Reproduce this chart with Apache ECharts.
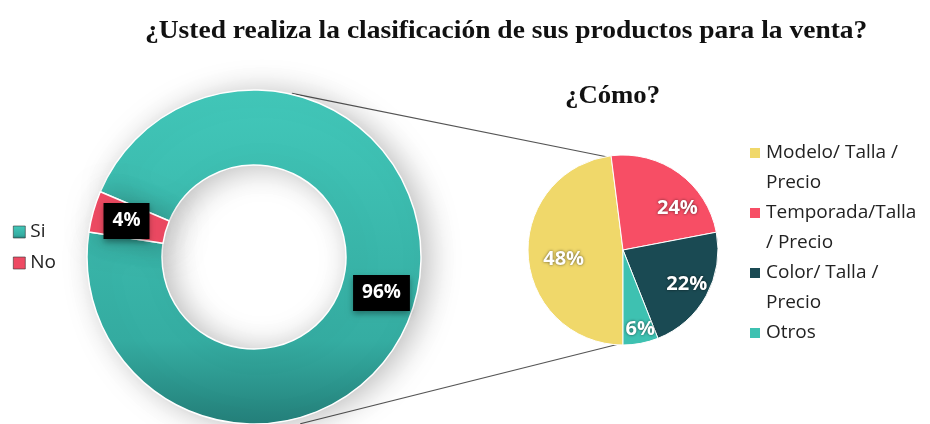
<!DOCTYPE html>
<html>
<head>
<meta charset="utf-8">
<script src="https://cdn.jsdelivr.net/npm/echarts@6/dist/echarts.min.js"></script>
<style>
  html, body { margin: 0; padding: 0; background: #fff; }
  #chart { width: 930px; height: 424px; }
</style>
</head>
<body>
<div id="chart"></div>
<script>
// datos del grafico
var siNoNames = ['Si', 'No'];
var siNoValues = [96, 4];
var comoNames = ['Modelo/ Talla /\nPrecio', 'Temporada/Talla\n/ Precio', 'Color/ Talla /\nPrecio', 'Otros'];
var comoValues = [48, 24, 22, 6];

var siNoColors = [
    { type: 'linear', x: 0, y: 0, x2: 0, y2: 1,
      colorStops: [{ offset: 0, color: '#42C8BA' }, { offset: 0.75, color: '#35ADA2' }, { offset: 1, color: '#24807A' }] },
    '#EE4A63'
];
var comoColors = ['#F0D86A', '#F74E65', '#1A4A53', '#3EC1B1'];
// corrimiento de las etiquetas del pie (Excel no las pone en el centro del sector)
var comoLabelShift = [[11, 5], [13, 15], [2, 0], [4, 10]];

// geometria
var donutCenter = [254, 257];
var donutRadius = [92, 167];
var pieCenter = [623, 250];
var pieRadius = 95;

var chart = echarts.init(document.getElementById('chart'));

function polar(c, r, deg) {
    var a = deg * Math.PI / 180;
    return [c[0] + r * Math.cos(a), c[1] - r * Math.sin(a)];
}

// lineas de conexion: del anillo al borde del sector "Modelo"
var modeloEnd = -90 - 360 * comoValues[0] / 100 + 360;
var lineTopA = polar(donutCenter, donutRadius[1] + 1, 77);
var lineTopB = polar(pieCenter, pieRadius - 2, modeloEnd);
var lineBotA = polar(donutCenter, donutRadius[1] + 6, -74.5);
var lineBotB = polar(pieCenter, pieRadius - 2, -90);

var boxLabel = {
    show: true,
    position: 'inside',
    formatter: '{c}%',
    color: '#fff',
    fontFamily: 'Open Sans',
    fontWeight: 'bold',
    fontSize: 19,
    backgroundColor: '#000',
    padding: [9, 9, 8, 9],
    shadowColor: 'rgba(0,0,0,0.35)',
    shadowBlur: 6,
    shadowOffsetY: 3
};

var option = {
    backgroundColor: '#fff',
    animation: false,
    legend: [
        {
            data: siNoNames,
            orient: 'vertical',
            left: 13,
            top: 222,
            padding: 0,
            itemWidth: 12,
            itemHeight: 12,
            itemGap: 11,
            icon: 'rect',
            itemStyle: { borderColor: '#333', borderWidth: 0.6 },
            textStyle: { fontFamily: 'Open Sans', fontSize: 19, color: '#222', lineHeight: 20 }
        },
        {
            data: comoNames,
            orient: 'vertical',
            left: 748,
            top: 108,
            padding: 0,
            itemWidth: 12,
            itemHeight: 12,
            itemGap: -30,
            icon: 'rect',
            textStyle: { fontFamily: 'Open Sans', fontSize: 19, color: '#222', lineHeight: 30 },
            formatter: function (name) {
                return name.indexOf('\n') >= 0 ? '\n' + name : '\n' + name + '\n';
            }
        }
    ],
    graphic: [
        {
            type: 'text', x: 145, y: 19, scaleX: 1.1,
            style: {
                text: '¿Usted realiza la clasificación de sus productos para la venta?',
                font: 'bold 25px "Liberation Serif"', fill: '#111', textVerticalAlign: 'top'
            }
        },
        {
            type: 'text', x: 565, y: 84, scaleX: 1.07,
            style: { text: '¿Cómo?', font: 'bold 25px "Liberation Serif"', fill: '#111', textVerticalAlign: 'top' }
        },
        { type: 'line', z: -1, shape: { x1: lineTopA[0], y1: lineTopA[1], x2: lineTopB[0], y2: lineTopB[1] },
          style: { stroke: '#555', lineWidth: 1.2 } },
        { type: 'line', z: -1, shape: { x1: lineBotA[0], y1: lineBotA[1], x2: lineBotB[0], y2: lineBotB[1] },
          style: { stroke: '#555', lineWidth: 1.2 } }
    ],
    series: [
        {
            type: 'pie',
            center: donutCenter,
            radius: donutRadius,
            startAngle: 157,
            clockwise: true,
            silent: true,
            itemStyle: {
                borderColor: '#fff',
                borderWidth: 1.5,
                shadowColor: 'rgba(0,0,0,0.26)',
                shadowBlur: 30,
                shadowOffsetX: 8,
                shadowOffsetY: 2
            },
            label: boxLabel,
            labelLine: { show: false },
            data: siNoNames.map(function (n, i) {
                return { name: n, value: siNoValues[i], itemStyle: { color: siNoColors[i] } };
            })
        },
        {
            type: 'pie',
            center: pieCenter,
            radius: [0, pieRadius],
            startAngle: -90,
            clockwise: true,
            silent: true,
            itemStyle: { borderColor: '#fff', borderWidth: 1 },
            label: { show: false },
            labelLine: { show: false },
            data: comoNames.map(function (n, i) {
                return { name: n, value: comoValues[i], itemStyle: { color: comoColors[i] } };
            })
        },
        {
            // capa solo para las etiquetas, un poco mas afuera
            type: 'pie',
            center: pieCenter,
            radius: [40, pieRadius],
            startAngle: -90,
            clockwise: true,
            silent: true,
            z: 3,
            itemStyle: { color: 'rgba(0,0,0,0)' },
            label: {
                show: true,
                position: 'inside',
                formatter: '{c}%',
                color: '#fff',
                fontFamily: 'Open Sans',
                fontWeight: 'bold',
                fontSize: 20,
                textShadowColor: 'rgba(0,0,0,0.6)',
                textShadowBlur: 3
            },
            labelLine: { show: false },
            labelLayout: function (params) {
                var s = comoLabelShift[params.dataIndex];
                return { dx: s[0], dy: s[1] };
            },
            data: comoNames.map(function (n, i) {
                return { name: n, value: comoValues[i] };
            })
        }
    ]
};
chart.setOption(option);
</script>
</body>
</html>
